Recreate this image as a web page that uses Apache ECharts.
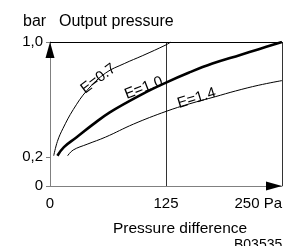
<!DOCTYPE html>
<html>
<head>
<meta charset="utf-8">
<script src="https://cdn.jsdelivr.net/npm/echarts@6/dist/echarts.min.js"></script>
<style>
  html, body { margin: 0; padding: 0; background: #fff; }
  #chart { width: 284px; height: 246px; }
</style>
</head>
<body>
<div id="chart"></div>
<script>
// curve data (x in Pa, y in bar)
const e07X = [4, 8, 14, 25, 40, 60, 80, 100, 125, 130]
const e07Y = [0.21, 0.31, 0.40, 0.53, 0.665, 0.785, 0.85, 0.906, 0.98, 1.0]
const e10X = [8, 15, 28, 46, 64, 100, 125, 150, 175, 205, 225, 250]
const e10Y = [0.21, 0.27, 0.335, 0.426, 0.51, 0.64, 0.718, 0.788, 0.85, 0.91, 0.95, 1.0]
const e14X = [19, 25, 40, 60, 90, 125, 150, 178, 200, 225, 250]
const e14Y = [0.21, 0.25, 0.29, 0.34, 0.43, 0.518, 0.57, 0.62, 0.66, 0.70, 0.732]
const curveNames = ['E=0.7', 'E=1.0', 'E=1.4']
const xTicks = [0, 125, 250]
const yTicks = [0, 0.2, 1.0]

const font = 'Liberation Sans, Arial, sans-serif'
const gray = '#808080'

function pairs(xs, ys) {
  return xs.map((x, i) => [x, ys[i]])
}

function curve(name, xs, ys, width, labelAt, rot) {
  return {
    name: name,
    type: 'line',
    smooth: 0.4,
    showSymbol: false,
    data: pairs(xs, ys),
    lineStyle: { color: '#000', width: width },
    markPoint: {
      symbol: 'circle',
      symbolSize: 0,
      data: [{ coord: labelAt }],
      label: {
        show: true,
        position: 'inside',
        formatter: name,
        rotate: rot,
        color: '#000',
        fontSize: 15,
        fontFamily: font
      }
    }
  }
}

function txt(text, left, top, size) {
  return { text: text, left: left, top: top, textStyle: { fontSize: size, fontWeight: 'normal', color: '#000', fontFamily: font } }
}

let myChart = echarts.init(document.getElementById('chart'))
myChart.setOption({
  animation: false,
  textStyle: { fontFamily: font },
  title: [
    txt('bar', 18, 9, 16),
    txt('Output pressure', 54, 9, 16),
    txt('Pressure difference', 108, 216, 15.5),
    txt('B03535', 229, 233, 14)
  ],
  grid: { left: 50, right: 2, top: 42, bottom: 60, outerBoundsMode: 'none' },
  xAxis: [
    {
      type: 'value', min: 0, max: 250, interval: 125, position: 'bottom',
      axisLine: { onZero: false, lineStyle: { color: gray, width: 1 } },
      axisTick: { show: false },
      axisLabel: {
        color: '#000', fontSize: 15, fontFamily: font, margin: 10,
        customValues: xTicks,
        alignMaxLabel: 'right',
        formatter: v => (v === 250 ? '250 Pa' : String(v))
      },
      splitLine: { show: true, showMinLine: false, lineStyle: { color: '#333', width: 1 } }
    },
    {
      // top frame line
      type: 'value', min: 0, max: 250, position: 'top',
      axisLine: { onZero: false, lineStyle: { color: '#000', width: 1 } },
      axisTick: { show: false }, axisLabel: { show: false }, splitLine: { show: false }
    }
  ],
  yAxis: {
    type: 'value', min: 0, max: 1, position: 'left',
    axisLine: { show: true, onZero: false, lineStyle: { color: gray, width: 1 } },
    axisTick: { show: true, length: 4, customValues: yTicks, lineStyle: { color: gray } },
    axisLabel: {
      color: '#000', fontSize: 15, fontFamily: font, margin: 7,
      customValues: yTicks,
      formatter: v => (v === 0 ? '0' : v.toFixed(1).replace('.', ','))
    },
    splitLine: { show: false }
  },
  series: [
    curve(curveNames[0], e07X, e07Y, 1, [52, 0.745], 37),
    curve(curveNames[1], e10X, e10Y, 2.6, [101, 0.68], 21),
    curve(curveNames[2], e14X, e14Y, 1, [158, 0.61], 17)
  ]
})

// black arrow heads at the axis ends, placed through the chart's own scales
let origin = myChart.convertToPixel({ gridIndex: 0 }, [0, 0])
let yEnd = myChart.convertToPixel({ gridIndex: 0 }, [0, 1])
let xEnd = myChart.convertToPixel({ gridIndex: 0 }, [250, 0])
myChart.setOption({
  graphic: [
    {
      type: 'polygon', z: 100,
      shape: { points: [[yEnd[0], yEnd[1]], [yEnd[0] - 4.5, yEnd[1] + 16], [yEnd[0] + 4.5, yEnd[1] + 16]] },
      style: { fill: '#000' }
    },
    {
      type: 'polygon', z: 100,
      shape: { points: [[xEnd[0], origin[1]], [xEnd[0] - 16, origin[1] - 4.5], [xEnd[0] - 16, origin[1] + 4.5]] },
      style: { fill: '#000' }
    }
  ]
})
</script>
</body>
</html>
